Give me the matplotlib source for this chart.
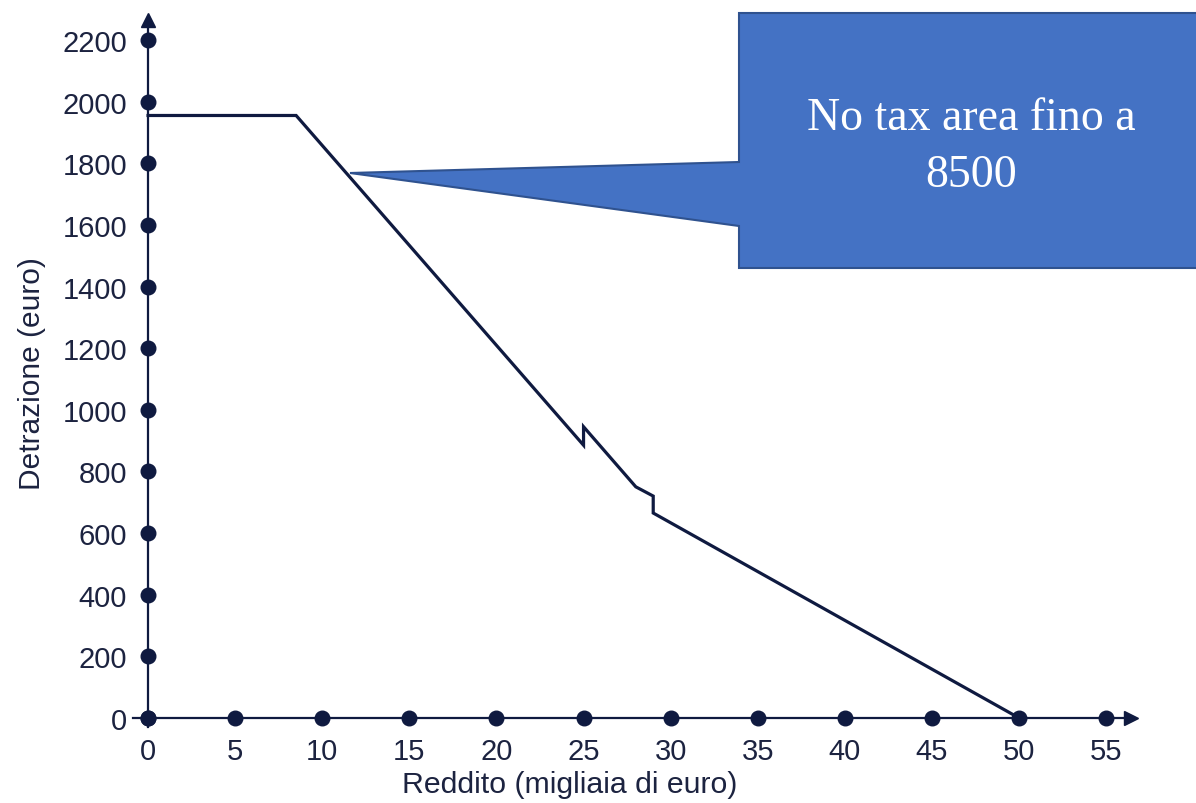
import matplotlib.pyplot as plt
from matplotlib.patches import Polygon

# reddito (migliaia di euro) e detrazione (euro)
reddito = [0, 8.5, 25, 25, 28, 29, 29, 50]
detrazione = [1955, 1955, 885, 945, 750, 720, 665, 0]

x_ticks = [0, 5, 10, 15, 20, 25, 30, 35, 40, 45, 50, 55]
y_ticks = [0, 200, 400, 600, 800, 1000, 1200, 1400, 1600, 1800, 2000, 2200]

navy = "#0f1a40"
txt = "#1c2340"

fig = plt.figure(figsize=(11.96, 8.04), dpi=100)
ax = fig.add_axes([0, 0, 1, 1])
ax.set_xlim(-8.5, 60.16)
ax.set_ylim(-276, 2333)

# assi con frecce
for s in ["top", "right"]:
    ax.spines[s].set_visible(False)
ax.spines["left"].set_position(("data", 0))
ax.spines["bottom"].set_position(("data", 0))
ax.spines["left"].set_bounds(-30, 2262)
ax.spines["bottom"].set_bounds(-0.85, 56.3)
for s in ["left", "bottom"]:
    ax.spines[s].set_color(navy)
    ax.spines[s].set_linewidth(1.6)
ax.plot(56.4, 0, marker=">", ms=10, color=navy, clip_on=False)
ax.plot(0, 2266, marker="^", ms=10, color=navy, clip_on=False)

ax.set_xticks(x_ticks)
ax.set_yticks(y_ticks)
ax.tick_params(length=0, labelsize=21, labelcolor=txt)
ax.tick_params(axis="x", pad=14)
ax.tick_params(axis="y", pad=15)
for lab in ax.get_xticklabels() + ax.get_yticklabels():
    lab.set_family("Liberation Sans")

ax.scatter(x_ticks, [0] * len(x_ticks), s=110, color=navy, zorder=5, clip_on=False)
ax.scatter([0] * len(y_ticks), y_ticks, s=110, color=navy, zorder=5, clip_on=False)

ax.plot(reddito, detrazione, color=navy, lw=2.3, zorder=4, solid_joinstyle="miter")

ax.set_xlabel("Reddito (migliaia di euro)", fontsize=21.8, color=txt, family="Liberation Sans")
ax.set_ylabel("Detrazione (euro)", fontsize=21.5, color=txt, family="Liberation Sans")
ax.xaxis.set_label_coords(0.4766, 0.024)
ax.yaxis.set_label_coords(0.027, 0.535)
ax.xaxis.label.set_va("center")
ax.yaxis.label.set_va("center")

# fumetto
W, H = 1196, 804
pts = [(739, 14), (1210, 14), (1210, 269), (739, 269), (739, 227), (350, 174), (739, 163)]
pts = [(x / W, 1 - y / H) for x, y in pts]
fig.patches.append(Polygon(pts, closed=True, transform=fig.transFigure,
                           facecolor="#4472c4", edgecolor="#2f528f", lw=1.5, zorder=10))
fig.text(971 / W, 1 - 130 / H, "No tax area fino a", color="white", fontsize=33,
         family="Liberation Serif", ha="center", va="baseline", zorder=11)
fig.text(971 / W, 1 - 187 / H, "8500", color="white", fontsize=33,
         family="Liberation Serif", ha="center", va="baseline", zorder=11)

fig.savefig("out.png", dpi=100)
